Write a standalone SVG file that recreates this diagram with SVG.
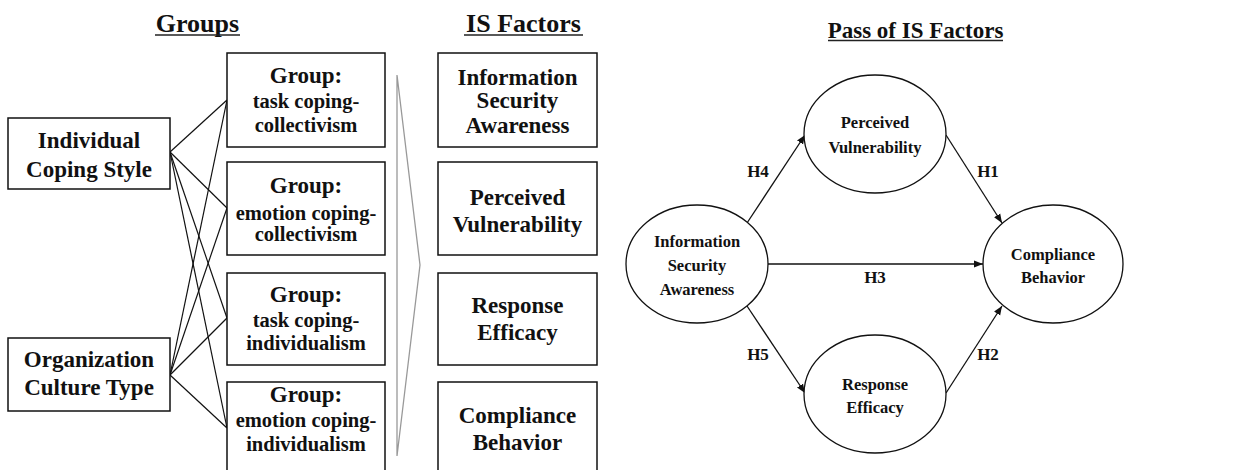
<svg xmlns="http://www.w3.org/2000/svg" width="1246" height="470" viewBox="0 0 1246 470">
  <style>
    text { font-family: "Liberation Serif", "Times New Roman", serif; font-weight: bold; fill: #111; text-anchor: middle; }
    .title { font-size: 26px; }
    .title2 { font-size: 23px; }
    .big { font-size: 23px; }
    .sub { font-size: 20.5px; }
    .ell { font-size: 16.5px; }
    .hl { font-size: 17px; }
    .box { fill: #fff; stroke: #111; stroke-width: 1.5; }
    .oval { fill: #fff; stroke: #111; stroke-width: 1.3; }
    .uline { stroke: #222; stroke-width: 1.6; }
    .link { stroke: #111; stroke-width: 1.2; fill: none; }
    .path { stroke: #111; stroke-width: 1.3; fill: none; marker-end: url(#arrow); }
  </style>
  <defs>
    <marker id="arrow" viewBox="0 0 10 10" refX="10" refY="5" markerWidth="9" markerHeight="9" markerUnits="userSpaceOnUse" orient="auto">
      <path d="M0,1 L10,5 L0,9 z" fill="#111"/>
    </marker>
  </defs>
  <rect width="1246" height="470" fill="#fff"/>

  <!-- Section titles -->
  <g id="titles">
    <text class="title" x="197.5" y="32">Groups</text>
    <line class="uline" x1="155" y1="35" x2="240" y2="35"/>
    <text class="title" x="523.5" y="32">IS Factors</text>
    <line class="uline" x1="464" y1="35" x2="583" y2="35"/>
    <text class="title2" x="915.5" y="38">Pass of IS Factors</text>
    <line class="uline" x1="828" y1="40.5" x2="1003" y2="40.5"/>
  </g>

  <!-- Links between dimensions and groups -->
  <g id="connectors">
    <line class="link" x1="170" y1="152" x2="227" y2="100"/>
    <line class="link" x1="170" y1="152" x2="227" y2="208"/>
    <line class="link" x1="170" y1="152" x2="227" y2="318"/>
    <line class="link" x1="170" y1="152" x2="227" y2="428"/>
    <line class="link" x1="170" y1="375" x2="227" y2="100"/>
    <line class="link" x1="170" y1="375" x2="227" y2="208"/>
    <line class="link" x1="170" y1="375" x2="227" y2="318"/>
    <line class="link" x1="170" y1="375" x2="227" y2="428"/>
    <!-- chevron pointing to the factors -->
    <polygon points="397,75 420,265 397,456" fill="none" stroke="#999" stroke-width="1.3"/>
    <!-- hypothesis paths -->
    <line class="path" x1="747" y1="223" x2="805" y2="135"/>
    <line class="path" x1="946" y1="135" x2="1002" y2="223"/>
    <line class="path" x1="768" y1="264" x2="983" y2="264"/>
    <line class="path" x1="747" y1="306" x2="805" y2="393"/>
    <line class="path" x1="946" y1="393" x2="1002" y2="306"/>
    <text class="hl" x="758" y="177">H4</text>
    <text class="hl" x="988" y="177">H1</text>
    <text class="hl" x="875" y="283">H3</text>
    <text class="hl" x="758" y="360">H5</text>
    <text class="hl" x="988" y="360">H2</text>
  </g>

  <!-- Dimensions -->
  <g id="individual-coping-style">
    <rect class="box" x="8" y="118" width="162" height="71"/>
    <text class="big" x="89" y="148">Individual</text>
    <text class="big" x="89" y="177">Coping Style</text>
  </g>
  <g id="organization-culture-type">
    <rect class="box" x="8" y="338" width="162" height="73"/>
    <text class="big" x="89" y="367">Organization</text>
    <text class="big" x="89" y="395">Culture Type</text>
  </g>

  <!-- Groups -->
  <g id="group-task-collectivism">
    <rect class="box" x="227" y="53" width="158" height="94"/>
    <text class="big" x="306" y="83">Group:</text>
    <text class="sub" x="306" y="108">task coping-</text>
    <text class="sub" x="306" y="132">collectivism</text>
  </g>
  <g id="group-emotion-collectivism">
    <rect class="box" x="227" y="162" width="158" height="93"/>
    <text class="big" x="306" y="193">Group:</text>
    <text class="sub" x="306" y="220">emotion coping-</text>
    <text class="sub" x="306" y="241">collectivism</text>
  </g>
  <g id="group-task-individualism">
    <rect class="box" x="227" y="273" width="158" height="92"/>
    <text class="big" x="306" y="302">Group:</text>
    <text class="sub" x="306" y="327">task coping-</text>
    <text class="sub" x="306" y="350">individualism</text>
  </g>
  <g id="group-emotion-individualism">
    <rect class="box" x="227" y="382" width="158" height="94"/>
    <text class="big" x="306" y="402">Group:</text>
    <text class="sub" x="306" y="427">emotion coping-</text>
    <text class="sub" x="306" y="451">individualism</text>
  </g>

  <!-- IS factors list -->
  <g id="factor-awareness">
    <rect class="box" x="438" y="53" width="159" height="94"/>
    <text class="big" x="517.5" y="85">Information</text>
    <text class="big" x="517.5" y="108">Security</text>
    <text class="big" x="517.5" y="133">Awareness</text>
  </g>
  <g id="factor-vulnerability">
    <rect class="box" x="438" y="162" width="159" height="93"/>
    <text class="big" x="517.5" y="205">Perceived</text>
    <text class="big" x="517.5" y="232">Vulnerability</text>
  </g>
  <g id="factor-efficacy">
    <rect class="box" x="438" y="273" width="159" height="92"/>
    <text class="big" x="517.5" y="313">Response</text>
    <text class="big" x="517.5" y="340">Efficacy</text>
  </g>
  <g id="factor-compliance">
    <rect class="box" x="438" y="382" width="159" height="94"/>
    <text class="big" x="517.5" y="423">Compliance</text>
    <text class="big" x="517.5" y="450">Behavior</text>
  </g>

  <!-- Path model -->
  <g id="node-vulnerability">
    <ellipse class="oval" cx="875" cy="134" rx="71" ry="59"/>
    <text class="ell" x="875" y="128">Perceived</text>
    <text class="ell" x="875" y="153">Vulnerability</text>
  </g>
  <g id="node-awareness">
    <ellipse class="oval" cx="697" cy="264" rx="71" ry="59"/>
    <text class="ell" x="697" y="247">Information</text>
    <text class="ell" x="697" y="271">Security</text>
    <text class="ell" x="697" y="295">Awareness</text>
  </g>
  <g id="node-compliance">
    <ellipse class="oval" cx="1053" cy="264" rx="70" ry="59"/>
    <text class="ell" x="1053" y="260">Compliance</text>
    <text class="ell" x="1053" y="283">Behavior</text>
  </g>
  <g id="node-efficacy">
    <ellipse class="oval" cx="875" cy="394" rx="71" ry="59"/>
    <text class="ell" x="875" y="390">Response</text>
    <text class="ell" x="875" y="413">Efficacy</text>
  </g>
</svg>
